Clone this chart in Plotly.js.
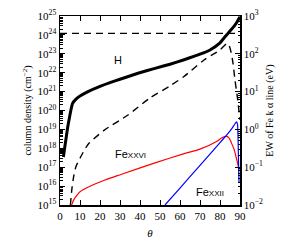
<!DOCTYPE html>
<html>
<head>
<meta charset="utf-8">
<script src="https://cdn.plot.ly/plotly-3.0.1.min.js"></script>
<style>html,body{margin:0;padding:0;background:#fff;}#chart{width:300px;height:250px;}</style>
</head>
<body>
<div id="chart"></div>
<script>
// Hydrogen column density (solid black), cm^-2
const thetaH = [1.7, 4, 6.3, 8, 10, 14, 20, 25, 30, 39, 47.5, 55, 61.7, 70, 75, 80, 82.5, 85, 87, 88.5, 90];
const colH   = [3.5e17, 1.6e19, 2.4e20, 4e20, 5.8e20, 1e21, 1.9e21, 3e21, 4.5e21, 9.3e21, 1.7e22, 2.8e22, 4.7e22, 9.5e22, 1.6e23, 3.8e23, 7.9e23, 1.6e24, 2.8e24, 4.8e24, 9.1e24];

// Constant column (upper dashed)
const thetaConst = [0, 90];
const colConst   = [1.2e24, 1.2e24];

// Second column-density curve (lower dashed)
const thetaD = [5.2, 6, 7, 8, 10, 14, 22, 34, 45, 55, 62, 72, 80, 82, 83.5, 84.5, 85.5, 86.5, 87.5, 88.7, 90];
const colD   = [1e15, 8e15, 4e16, 1.1e17, 3e17, 1.6e18, 8.9e18, 5.8e19, 4.6e20, 2e21, 6.3e21, 4.7e22, 1.6e23, 2.6e23, 3.5e23, 2.8e23, 1.26e23, 3.2e22, 4e21, 5e20, 3.2e19];

// EW of Fe K alpha line, eV
const thetaFe26 = [5.8, 7, 8.5, 10, 14.2, 22.5, 30.8, 47.5, 61.7, 70, 78.3, 81, 83, 84.5, 85.8, 87, 88, 89.2, 89.5];
const ewFe26    = [0.01, 0.0141, 0.0182, 0.0224, 0.030, 0.046, 0.065, 0.13, 0.225, 0.3, 0.48, 0.6, 0.66, 0.6, 0.427, 0.3, 0.19, 0.102, 0.079];

const thetaFe22 = [52.5, 60, 70, 80, 83, 86, 87.5, 88.3, 88.8, 89.1, 89.3, 89.5];
const ewFe22    = [0.01, 0.028, 0.112, 0.447, 0.676, 1.07, 1.41, 1.58, 1.32, 0.4, 0.1, 0.04];

const xTicks = [0, 10, 20, 30, 40, 50, 60, 70, 80, 90];
const yExps  = [15, 16, 17, 18, 19, 20, 21, 22, 23, 24, 25];
const y2Exps = [-2, -1, 0, 1, 2, 3];

const serif = '"Liberation Serif", serif';
const sans = '"Liberation Sans", Arial, sans-serif';

function minorVals(lo, hi) {
  const out = [];
  for (let e = lo; e < hi; e++) for (let m = 2; m <= 9; m++) out.push(m * Math.pow(10, e));
  return out;
}

const traces = [
  {x: thetaConst, y: colConst, mode: 'lines', line: {color: 'black', width: 1.4, dash: '7px,5px'}, yaxis: 'y'},
  {x: thetaD, y: colD, mode: 'lines', line: {color: 'black', width: 1.4, dash: '7px,5px', shape: 'spline', smoothing: 0.6}, yaxis: 'y'},
  {x: thetaH, y: colH, mode: 'lines', line: {color: 'black', width: 3, shape: 'spline', smoothing: 0.4}, yaxis: 'y'},
  {x: thetaFe26, y: ewFe26, mode: 'lines', line: {color: 'red', width: 1.2, shape: 'spline', smoothing: 0.7}, yaxis: 'y2'},
  {x: thetaFe22, y: ewFe22, mode: 'lines', line: {color: 'blue', width: 1.2, shape: 'spline', smoothing: 0.3}, yaxis: 'y2'}
];

const layout = {
  width: 300, height: 250,
  margin: {l: 60, r: 60, t: 16, b: 45, pad: 0},
  paper_bgcolor: 'white', plot_bgcolor: 'white',
  showlegend: false,
  font: {family: serif, size: 10, color: 'black'},
  xaxis: {
    range: [0, 90], tickmode: 'array', tickvals: xTicks, ticktext: xTicks.map(String),
    ticks: 'inside', ticklen: 5, tickwidth: 1, tickcolor: 'black',
    showline: true, linecolor: 'black', linewidth: 1.5, mirror: 'ticks',
    showgrid: false, zeroline: false,
    tickfont: {family: serif, size: 11},
    title: {text: '<i>θ</i>', font: {family: serif, size: 11}, standoff: 8}
  },
  yaxis: {
    type: 'log', range: [15, 25], tickmode: 'array',
    tickvals: yExps.map(e => Math.pow(10, e)),
    ticktext: yExps.map(e => '10<sup>' + e + '</sup>'),
    ticks: 'inside', ticklen: 5, tickcolor: 'black',
    minor: {tickmode: 'array', tickvals: minorVals(15, 25), ticks: 'inside', ticklen: 2.5, tickcolor: 'black', showgrid: false},
    showline: true, linecolor: 'black', linewidth: 1.5,
    showgrid: false, zeroline: false,
    tickfont: {family: serif, size: 11},
    title: {text: 'column density (cm<sup>−2</sup>)', font: {family: serif, size: 10}, standoff: 4}
  },
  yaxis2: {
    type: 'log', range: [-2, 3], overlaying: 'y', side: 'right', tickmode: 'array',
    tickvals: y2Exps.map(e => Math.pow(10, e)),
    ticktext: y2Exps.map(e => '10<sup>' + (e < 0 ? '−' + (-e) : e) + '</sup>'),
    ticks: 'inside', ticklen: 5, tickcolor: 'black',
    minor: {tickmode: 'array', tickvals: minorVals(-2, 3), ticks: 'inside', ticklen: 2.5, tickcolor: 'black', showgrid: false},
    showline: true, linecolor: 'black', linewidth: 1.5,
    showgrid: false, zeroline: false,
    tickfont: {family: serif, size: 11},
    title: {text: 'EW of Fe k α line (eV)', font: {family: serif, size: 10}, standoff: 4}
  },
  annotations: [
    {x: 29, y: 22.67, xref: 'x', yref: 'y', text: 'H', showarrow: false, font: {family: sans, size: 11, color: 'black'}},
    {x: 35, y: 17.72, xref: 'x', yref: 'y', text: 'Fe<span style="font-size:8px">XXVI</span>', showarrow: false, font: {family: sans, size: 11, color: 'black'}},
    {x: 75, y: 15.7, xref: 'x', yref: 'y', text: 'Fe<span style="font-size:8px">XXII</span>', showarrow: false, font: {family: sans, size: 11, color: 'black'}}
  ]
};

Plotly.newPlot('chart', traces, layout, {staticPlot: true, displayModeBar: false});
</script>
</body>
</html>
